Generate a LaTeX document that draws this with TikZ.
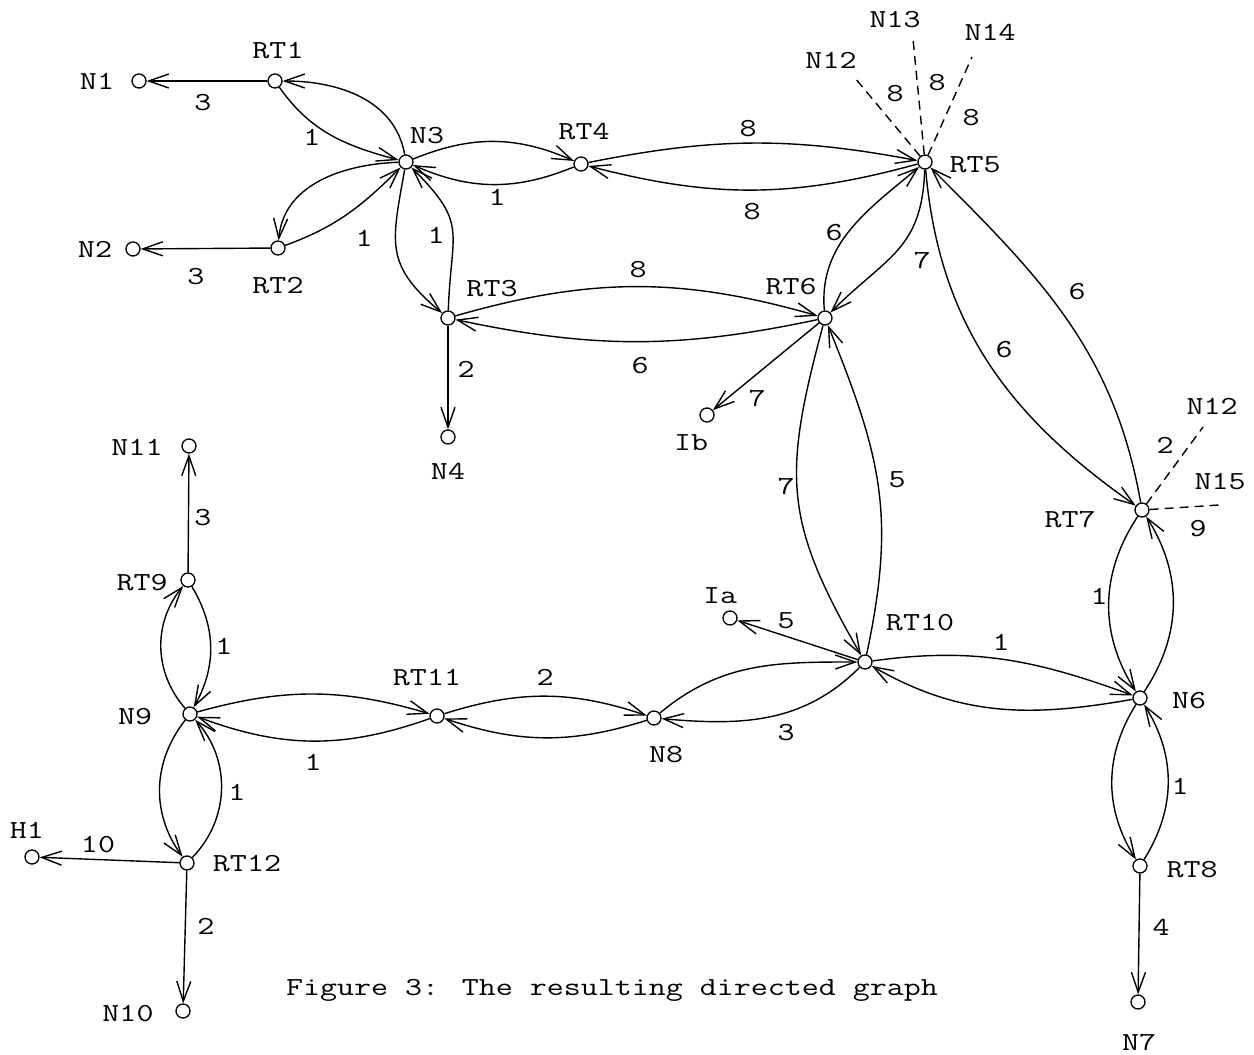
\documentclass[tikz,border=0pt]{standalone}
\usepackage{fontspec}
\newfontfamily\cour{Latin Modern Mono}[FakeStretch=1.27]
\usetikzlibrary{arrows.meta}
\begin{document}
\begin{tikzpicture}[x=1pt,y=1pt,
  font=\cour\fontsize{26}{28}\selectfont,
  pt/.style={circle,draw,line width=1.3pt,minimum size=14pt,inner sep=0pt},
  lbl/.style={inner sep=0pt,text height=15.9pt,text depth=0pt},
  edge/.style={line width=1.4pt,-{Straight Barb[length=20pt,width=14pt]}},
  dsh/.style={line width=1.4pt,dash pattern=on 9pt off 6pt}]
\useasboundingbox (0,0) rectangle (1254,-1055);
% vertices
\node[pt] (N1) at (139,-81) {};
\node[pt] (RT1) at (275,-81) {};
\node[pt] (N3) at (406,-162) {};
\node[pt] (RT2) at (278,-248) {};
\node[pt] (N2) at (133,-249) {};
\node[pt] (RT4) at (581,-164) {};
\node[pt] (RT5) at (925,-162) {};
\node[pt] (RT3) at (448,-318) {};
\node[pt] (N4) at (448,-437) {};
\node[pt] (RT6) at (825,-318) {};
\node[pt] (Ib) at (707,-415) {};
\node[pt] (RT7) at (1142,-510) {};
\node[pt] (N6) at (1140,-698) {};
\node[pt] (RT8) at (1140,-866) {};
\node[pt] (N7) at (1138,-1002) {};
\node[pt] (RT10) at (865,-662) {};
\node[pt] (Ia) at (730,-618) {};
\node[pt] (N8) at (654,-718) {};
\node[pt] (RT11) at (437,-716) {};
\node[pt] (N9) at (190,-714) {};
\node[pt] (RT9) at (188,-580) {};
\node[pt] (N11) at (189,-446) {};
\node[pt] (RT12) at (187,-863) {};
\node[pt] (H1) at (32,-857) {};
\node[pt] (N10) at (183,-1011) {};
% free ends of dashed links
\coordinate (e12) at (855,-78);
\coordinate (e13) at (913,-39);
\coordinate (e14) at (972,-57);
\coordinate (f12) at (1203,-427);
\coordinate (f15) at (1219,-505);
% edges
\draw[edge] (RT1) -- (N1);
\draw[edge] (N3) to[out=100,in=0] (RT1);
\draw[edge] (RT1) to[out=-55,in=165] (N3);
\draw[edge] (N3) to[out=182,in=85] (RT2);
\draw[edge] (RT2) to[out=20,in=225] (N3);
\draw[edge] (RT2) -- (N2);
\draw[edge] (N3) to[bend left=23] (RT4);
\draw[edge] (RT4) to[bend left=23] (N3);
\draw[edge] (RT4) to[bend left=11] (RT5);
\draw[edge] (RT5) to[bend left=15] (RT4);
\draw[edge] (RT6) to[out=95,in=220] (RT5);
\draw[edge] (RT5) to[out=-92,in=45,looseness=1.2] (RT6);
\draw[edge] (RT3) to[bend left=16] (RT6);
\draw[edge] (RT6) to[bend left=12] (RT3);
\draw[edge] (N3) to[out=-100,in=140,looseness=1.3] (RT3);
\draw[edge] (RT3) to[out=88,in=-45,looseness=1.4] (N3);
\draw[edge] (RT3) -- (N4);
\draw[edge] (RT6) -- (Ib);
\draw[edge] (RT6) to[out=-105,in=120,looseness=1.2] (RT10);
\draw[edge] (RT10) to[out=78,in=-68,looseness=1.1] (RT6);
\draw[edge] (RT5) to[out=-85,in=145] (RT7);
\draw[edge] (RT7) to[out=100,in=-45] (RT5);
\draw[edge] (RT7) to[bend right=33] (N6);
\draw[edge] (N6) to[bend right=33] (RT7);
\draw[edge] (N6) to[bend right=32] (RT8);
\draw[edge] (RT8) to[bend right=32] (N6);
\draw[edge] (RT8) -- (N7);
\draw[edge] (RT10) to[out=8,in=160] (N6);
\draw[edge] (N6) to[out=190,in=-30] (RT10);
\draw[edge] (RT10) -- (Ia);
\draw[edge] (N8) to[out=40,in=180] (RT10);
\draw[edge] (RT10) to[out=225,in=-5] (N8);
\draw[edge] (RT11) to[bend left=18] (N8);
\draw[edge] (N8) to[bend left=18] (RT11);
\draw[edge] (N9) to[bend left=16] (RT11);
\draw[edge] (RT11) to[bend left=20] (N9);
\draw[edge] (N9) to[bend left=40] (RT9);
\draw[edge] (RT9) to[bend left=30] (N9);
\draw[edge] (RT9) -- (N11);
\draw[edge] (N9) to[bend right=37] (RT12);
\draw[edge] (RT12) to[bend right=43] (N9);
\draw[edge] (RT12) -- (H1);
\draw[edge] (RT12) -- (N10);
% dashed links
\draw[dsh] (RT5) -- (e12);
\draw[dsh] (RT5) -- (e13);
\draw[dsh] (RT5) -- (e14);
\draw[dsh] (RT7) -- (f12);
\draw[dsh] (RT7) -- (f15);
% vertex names
\node[lbl] (tN1) at (97,-82) {N1};
\node[lbl] (tRT1) at (278,-51) {RT1};
\node[lbl] (tN3) at (427,-136) {N3};
\node[lbl] (tRT2) at (278,-286) {RT2};
\node[lbl] (tN2) at (95,-250) {N2};
\node[lbl] (tRT4) at (584,-132) {RT4};
\node[lbl] (tRT5) at (975,-165) {RT5};
\node[lbl] (tN12a) at (831,-61) {N12};
\node[lbl] (tN13) at (895,-20) {N13};
\node[lbl] (tN14) at (990,-33) {N14};
\node[lbl] (tRT3) at (492,-289) {RT3};
\node[lbl] (tRT6) at (791,-287) {RT6};
\node[lbl] (tN4) at (448,-472) {N4};
\node[lbl] (tIb) at (691,-443) {Ib};
\node[lbl] (tN11) at (137,-448) {N11};
\node[lbl] (tRT9) at (142,-583) {RT9};
\node[lbl] (tN9) at (135,-717) {N9};
\node[lbl] (tRT11) at (427,-678) {RT11};
\node[lbl] (tIa) at (720,-596) {Ia};
\node[lbl] (tRT10) at (920,-623) {RT10};
\node[lbl] (tN8) at (666,-755) {N8};
\node[lbl] (tRT7) at (1070,-520) {RT7};
\node[lbl] (tN12b) at (1212,-407) {N12};
\node[lbl] (tN15) at (1220,-482) {N15};
\node[lbl] (tN6) at (1189,-701) {N6};
\node[lbl] (tRT8) at (1192,-870) {RT8};
\node[lbl] (tN7) at (1139,-1043) {N7};
\node[lbl] (tH1) at (27,-831) {H1};
\node[lbl] (tRT12) at (247,-864) {RT12};
\node[lbl] (tN10) at (128,-1014) {N10};
% weights
\node[lbl] (w1) at (203,-103) {3};
\node[lbl] (w2) at (312,-138) {1};
\node[lbl] (w3) at (364,-239) {1};
\node[lbl] (w4) at (196,-277) {3};
\node[lbl] (w5) at (497,-198) {1};
\node[lbl] (w6) at (436,-236) {1};
\node[lbl] (w7) at (748,-129) {8};
\node[lbl] (w8) at (752,-212) {8};
\node[lbl] (w9) at (895,-94) {8};
\node[lbl] (w10) at (937,-83) {8};
\node[lbl] (w11) at (971,-118) {8};
\node[lbl] (w12) at (834,-233) {6};
\node[lbl] (w13) at (922,-261) {7};
\node[lbl] (w14) at (638,-270) {8};
\node[lbl] (w15) at (640,-366) {6};
\node[lbl] (w16) at (466,-370) {2};
\node[lbl] (w17) at (757,-399) {7};
\node[lbl] (w18) at (786,-487) {7};
\node[lbl] (w19) at (897,-480) {5};
\node[lbl] (w20) at (1004,-350) {6};
\node[lbl] (w21) at (1077,-292) {6};
\node[lbl] (w22) at (1165,-446) {2};
\node[lbl] (w23) at (1198,-529) {9};
\node[lbl] (w24) at (1099,-597) {1};
\node[lbl] (w25) at (786,-621) {5};
\node[lbl] (w26) at (1001,-643) {1};
\node[lbl] (w27) at (786,-733) {3};
\node[lbl] (w28) at (1180,-787) {1};
\node[lbl] (w29) at (1161,-928) {4};
\node[lbl] (w30) at (545,-678) {2};
\node[lbl] (w31) at (313,-763) {1};
\node[lbl] (w32) at (203,-518) {3};
\node[lbl] (w33) at (224,-647) {1};
\node[lbl] (w34) at (237,-793) {1};
\node[lbl] (w35) at (98,-845) {10};
\node[lbl] (w36) at (206,-927) {2};
% caption
\node[lbl] (cap) at (612,-988) {Figure 3: The resulting directed graph};
\end{tikzpicture}
\end{document}
